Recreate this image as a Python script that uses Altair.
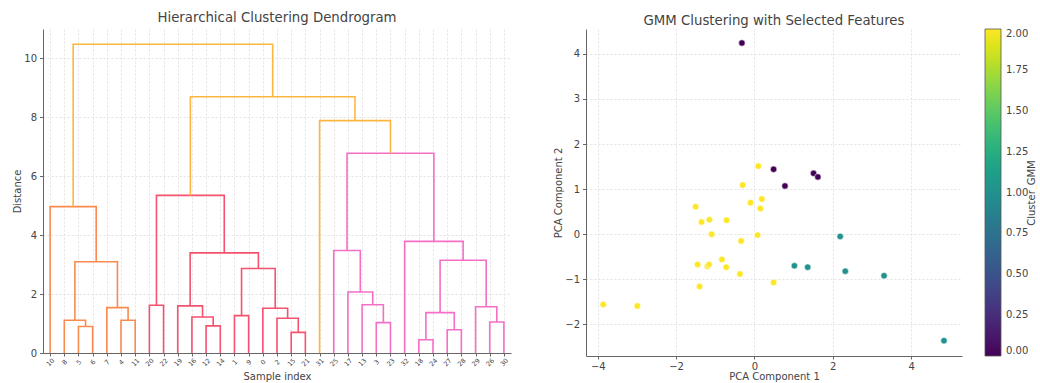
import altair as alt
import pandas as pd

# ---------------- Dendrogram data ----------------
LEAVES = ["10", "8", "5", "6", "7", "4", "11", "20", "22", "19", "16", "12", "14",
          "1", "9", "0", "2", "15", "21", "31", "25", "17", "13", "3", "23", "32",
          "18", "24", "27", "28", "29", "26", "30"]

M_LEFT = ["5", "8", "4", "7", "N1", "10",
          "20", "12", "16", "19", "1", "15", "2", "0", "N10", "N9", "N6",
          "3", "13", "17", "25", "18", "27", "N21", "26", "29", "N23", "32", "N20",
          "31", "N16", "N5"]
M_RIGHT = ["6", "N0", "11", "N2", "N3", "N4",
           "22", "14", "N7", "N8", "9", "21", "N11", "N12", "N13", "N14", "N15",
           "23", "N17", "N18", "N19", "24", "28", "N22", "30", "N24", "N25", "N26", "N27",
           "N28", "N29", "N30"]
M_HEIGHT = [0.90, 1.11, 1.11, 1.54, 3.10, 4.97,
            1.62, 0.92, 1.22, 1.60, 1.27, 0.70, 1.18, 1.52, 2.87, 3.40, 5.35,
            1.03, 1.64, 2.07, 3.48, 0.45, 0.79, 1.37, 1.05, 1.57, 3.15, 3.79, 6.78,
            7.89, 8.70, 10.48]
M_GROUP = ["C1"] * 6 + ["C2"] * 11 + ["C3"] * 12 + ["above"] * 3

GROUPS = ["C1", "C2", "C3", "above"]
GROUP_COLORS = ["#fa8b4f", "#f5526f", "#f56fc6", "#fdb73e"]

# ---------------- Scatter data ----------------
PC1 = [-0.32, 0.49, 1.51, 1.62, 0.78,
       2.19, 1.02, 1.36, 2.32, 3.31, 4.84,
       0.10, -0.30, -1.50, -0.10, 0.19, 0.15, -1.35, -1.15, -0.71, -1.09, -0.34,
       0.08, -1.45, -0.83, -1.20, -1.16, -0.72, -0.37, -1.40, 0.49, -3.86, -2.99]
PC2 = [4.24, 1.44, 1.35, 1.27, 1.07,
       -0.05, -0.70, -0.73, -0.82, -0.92, -2.36,
       1.51, 1.09, 0.61, 0.70, 0.78, 0.57, 0.27, 0.32, 0.31, 0.00, -0.15,
       -0.02, -0.67, -0.56, -0.71, -0.67, -0.73, -0.88, -1.16, -1.07, -1.56, -1.59]
CLUSTER = [0] * 5 + [1] * 6 + [2] * 22

# ---------------- Build link table ----------------
pos = {leaf: (10 * i + 5, 0.0) for i, leaf in enumerate(LEAVES)}
rows = []
for k, (l, r, h, g) in enumerate(zip(M_LEFT, M_RIGHT, M_HEIGHT, M_GROUP)):
    xl, yl = pos[l]
    xr, yr = pos[r]
    for j, (x, y) in enumerate([(xl, yl), (xl, h), (xr, h), (xr, yr)]):
        rows.append({"link": k, "ord": j, "x": x, "y": y, "group": g})
    pos[f"N{k}"] = ((xl + xr) / 2, h)
links = pd.DataFrame(rows)

TICKS = [10 * i + 5 for i in range(len(LEAVES))]
label_expr = "[" + ",".join(f"'{s}'" for s in LEAVES) + "][floor(datum.value / 10)]"

FONT = "DejaVu Sans"
TXT = "#444444"

dendro = alt.Chart(links).mark_line(strokeWidth=1.6, strokeCap="butt", strokeJoin="miter").encode(
    x=alt.X("x:Q", scale=alt.Scale(domain=[0, 330], nice=False, zero=False),
            axis=alt.Axis(values=TICKS, labelExpr=label_expr, labelAngle=315,
                          labelFontSize=6.5, labelAlign="center", labelBaseline="middle",
                          labelPadding=6, tickSize=3, title="Sample index", titlePadding=4)),
    y=alt.Y("y:Q", scale=alt.Scale(domain=[0, 11.0], nice=False),
            axis=alt.Axis(values=[0, 2, 4, 6, 8, 10], title="Distance", titlePadding=1)),
    detail="link:N",
    order="ord:O",
    color=alt.Color("group:N", scale=alt.Scale(domain=GROUPS, range=GROUP_COLORS), legend=None),
).properties(
    width=468, height=324,
    title=alt.TitleParams("Hierarchical Clustering Dendrogram", fontSize=13.3, font=FONT,
                          fontWeight="normal", color=TXT, frame="group", offset=4.5),
)

scat_df = pd.DataFrame({"pc1": PC1, "pc2": PC2, "cluster": CLUSTER})
points = alt.Chart(scat_df).mark_circle(size=42, opacity=1, stroke="white", strokeWidth=0.6).encode(
    x=alt.X("pc1:Q", scale=alt.Scale(domain=[-4.3, 5.3], nice=False, zero=False),
            axis=alt.Axis(values=[-4, -2, 0, 2, 4], title="PCA Component 1", titlePadding=0,
                          tickSize=3, labelPadding=2)),
    y=alt.Y("pc2:Q", scale=alt.Scale(domain=[-2.7, 4.55], nice=False, zero=False),
            axis=alt.Axis(values=[-2, -1, 0, 1, 2, 3, 4], title="PCA Component 2", titlePadding=1)),
    color=alt.Color("cluster:Q", scale=alt.Scale(scheme="viridis", domain=[0, 2]),
                    legend=alt.Legend(title=None, orient="right", offset=23, direction="vertical",
                                      gradientLength=327, gradientThickness=16,
                                      values=[0, 0.25, 0.5, 0.75, 1.0, 1.25, 1.5, 1.75, 2.0],
                                      format=".2f", labelFontSize=10, labelColor=TXT,
                                      labelOverlap=False, labelBaseline="middle", labelOffset=5,
                                      gradientStrokeColor="#555555", gradientStrokeWidth=0.8,
                                      padding=0)),
)
cb_title = alt.Chart(pd.DataFrame({"t": ["Cluster_GMM"]})).mark_text(
    angle=270, fontSize=10, color=TXT, font=FONT, baseline="middle", align="center"
).encode(x=alt.value(446), y=alt.value(164), text="t:N")

scatter = alt.layer(points, cb_title).properties(
    width=376, height=327,
    title=alt.TitleParams("GMM Clustering with Selected Features", fontSize=13.3, font=FONT,
                          fontWeight="normal", color=TXT, frame="group", offset=1.5),
)

chart = alt.hconcat(dendro, scatter, spacing=42).properties(
    padding={"left": 12, "top": 11, "right": 0, "bottom": 0}
).configure(font=FONT).configure_view(stroke=None).configure_axis(
    domainColor="#666666", domainWidth=1, tickColor="#666666", tickSize=3.5,
    labelColor=TXT, titleColor=TXT, labelFontSize=10, titleFontSize=10,
    titleFontWeight="normal", labelFont=FONT, titleFont=FONT,
    gridColor="#dcdcdc", gridDash=[2, 2], gridWidth=0.8, labelPadding=3,
)

chart.save("out.html", embed_options={"renderer": "svg", "actions": False})
